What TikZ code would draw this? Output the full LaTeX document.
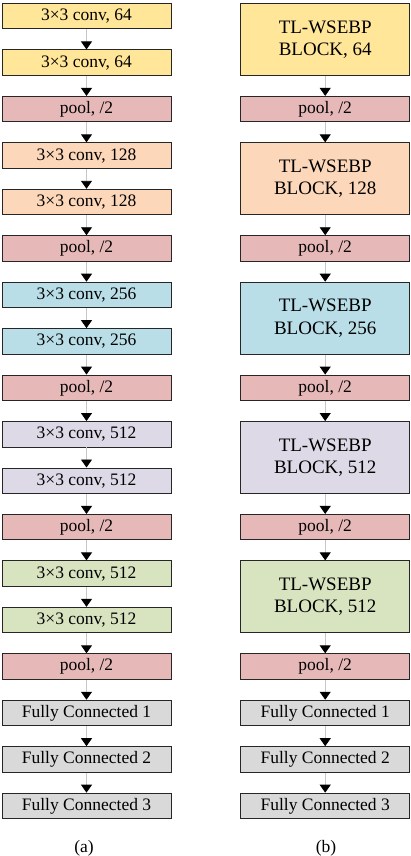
\documentclass[tikz,border=0pt]{standalone}
\usepackage{fontspec}
\setmainfont{Liberation Serif}
\usetikzlibrary{arrows.meta}
\definecolor{cyel}{HTML}{FFE699}
\definecolor{cpool}{HTML}{E6B9B8}
\definecolor{cpeach}{HTML}{FCD7BA}
\definecolor{cblue}{HTML}{B9DEE8}
\definecolor{clav}{HTML}{DDD9E6}
\definecolor{cgreen}{HTML}{D8E4BF}
\definecolor{cgray}{HTML}{D9D9D9}
\tikzset{
  lbox/.style={draw=black!85, line width=0.9pt, minimum width=169pt, minimum height=25.5pt, inner sep=0pt,
    font=\fontsize{17.5}{22}\selectfont, anchor=north},
  rbig/.style={lbox, minimum height=72pt, align=center, font=\fontsize{19}{22.5}\selectfont},
  conn/.style={draw=black!22, line width=0.9pt, -{Triangle[length=8pt,width=11pt,color=black,fill=black]}},
  caption/.style={font=\fontsize{17.5}{22}\selectfont, inner sep=0pt}
}
\begin{document}
\begin{tikzpicture}[x=1pt,y=-1pt]
\useasboundingbox (0,0) rectangle (410,856);
% left column
\def\lx{86.5}
\node[lbox, fill=cyel]   (l1)  at (\lx,3)       {3×3 conv, 64};
\node[lbox, fill=cyel]   (l2)  at (\lx,49.45)   {3×3 conv, 64};
\node[lbox, fill=cpool]  (l3)  at (\lx,95.9)    {pool, /2};
\node[lbox, fill=cpeach] (l4)  at (\lx,142.35)  {3×3 conv, 128};
\node[lbox, fill=cpeach] (l5)  at (\lx,188.8)   {3×3 conv, 128};
\node[lbox, fill=cpool]  (l6)  at (\lx,235.25)  {pool, /2};
\node[lbox, fill=cblue]  (l7)  at (\lx,281.7)   {3×3 conv, 256};
\node[lbox, fill=cblue]  (l8)  at (\lx,328.15)  {3×3 conv, 256};
\node[lbox, fill=cpool]  (l9)  at (\lx,374.6)   {pool, /2};
\node[lbox, fill=clav]   (l10) at (\lx,421.05)  {3×3 conv, 512};
\node[lbox, fill=clav]   (l11) at (\lx,467.5)   {3×3 conv, 512};
\node[lbox, fill=cpool]  (l12) at (\lx,513.95)  {pool, /2};
\node[lbox, fill=cgreen] (l13) at (\lx,560.4)   {3×3 conv, 512};
\node[lbox, fill=cgreen] (l14) at (\lx,606.85)  {3×3 conv, 512};
\node[lbox, fill=cpool]  (l15) at (\lx,653.3)   {pool, /2};
\node[lbox, fill=cgray]  (l16) at (\lx,699.75)  {Fully Connected 1};
\node[lbox, fill=cgray]  (l17) at (\lx,746.2)   {Fully Connected 2};
\node[lbox, fill=cgray]  (l18) at (\lx,792.65)  {Fully Connected 3};
\foreach \a/\b in {1/2,2/3,3/4,4/5,5/6,6/7,7/8,8/9,9/10,10/11,11/12,12/13,13/14,14/15,15/16,16/17,17/18}
  \draw[conn] (l\a.south) -- (l\b.north);
% right column
\def\rx{325.2}
\node[rbig, fill=cyel]   (r1)  at (\rx,3)       {TL-WSEBP\\BLOCK, 64};
\node[lbox, fill=cpool]  (r2)  at (\rx,95.9)    {pool, /2};
\node[rbig, fill=cpeach] (r3)  at (\rx,142.35)  {TL-WSEBP\\BLOCK, 128};
\node[lbox, fill=cpool]  (r4)  at (\rx,235.25)  {pool, /2};
\node[rbig, fill=cblue]  (r5)  at (\rx,281.7)   {TL-WSEBP\\BLOCK, 256};
\node[lbox, fill=cpool]  (r6)  at (\rx,374.6)   {pool, /2};
\node[rbig, fill=clav]   (r7)  at (\rx,421.05)  {TL-WSEBP\\BLOCK, 512};
\node[lbox, fill=cpool]  (r8)  at (\rx,513.95)  {pool, /2};
\node[rbig, fill=cgreen] (r9)  at (\rx,560.4)   {TL-WSEBP\\BLOCK, 512};
\node[lbox, fill=cpool]  (r10) at (\rx,653.3)   {pool, /2};
\node[lbox, fill=cgray]  (r11) at (\rx,699.75)  {Fully Connected 1};
\node[lbox, fill=cgray]  (r12) at (\rx,746.2)   {Fully Connected 2};
\node[lbox, fill=cgray]  (r13) at (\rx,792.65)  {Fully Connected 3};
\foreach \a/\b in {1/2,2/3,3/4,4/5,5/6,6/7,7/8,8/9,9/10,10/11,11/12,12/13}
  \draw[conn] (r\a.south) -- (r\b.north);
% captions
\node[caption] (capa) at (84,848) {(a)};
\node[caption] (capb) at (326,848) {(b)};
\end{tikzpicture}
\end{document}
